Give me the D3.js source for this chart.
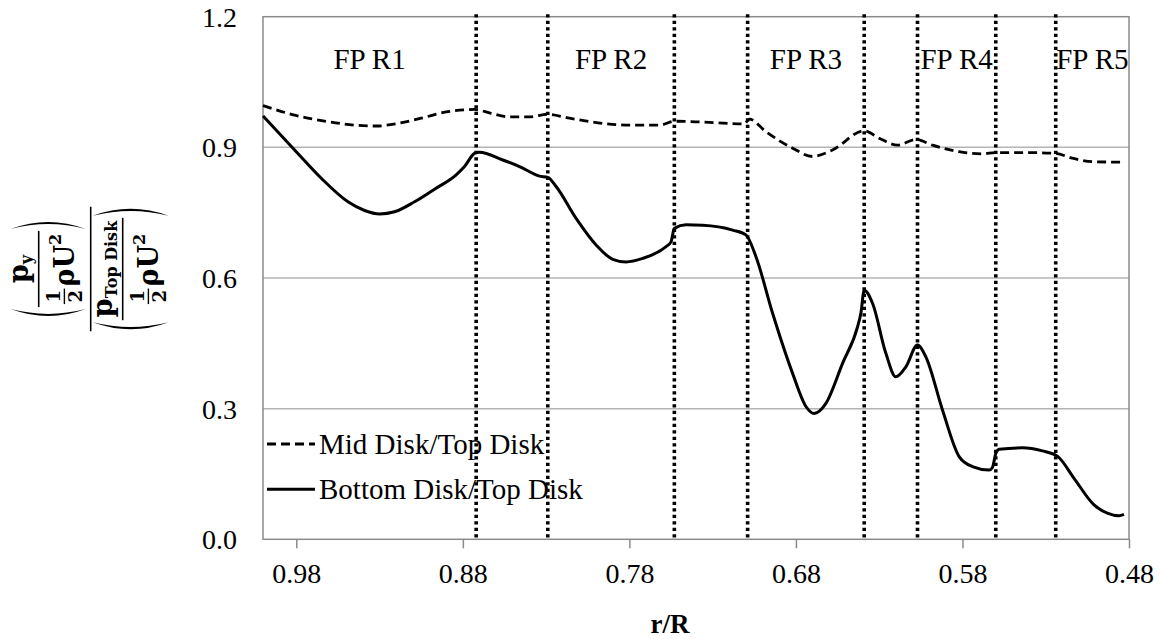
<!DOCTYPE html>
<html>
<head>
<meta charset="utf-8">
<script src="https://cdn.jsdelivr.net/npm/d3@7"></script>
<style>
  body { margin: 0; background: #fff; }
  svg { display: block; }
  text { font-family: "Liberation Serif", "Times New Roman", serif; fill: #000; }
  .math text { font-family: "DejaVu Serif", serif; font-weight: bold; }
</style>
</head>
<body>
<svg id="chart" width="1161" height="639"></svg>
<script>
// Pressure ratio along the radius, r/R from 1.0 down to 0.48
const midR = [1.000, 0.981, 0.961, 0.945, 0.932, 0.919, 0.905, 0.889, 0.873, 0.863, 0.852, 0.840, 0.829, 0.816, 0.796, 0.780, 0.762, 0.753, 0.736, 0.711, 0.708, 0.698, 0.682, 0.670, 0.658, 0.639, 0.630, 0.619, 0.608, 0.598, 0.582, 0.568, 0.560, 0.541, 0.524, 0.514, 0.501, 0.483];
const midVal = [0.996, 0.974, 0.959, 0.951, 0.949, 0.955, 0.967, 0.982, 0.987, 0.978, 0.970, 0.970, 0.976, 0.967, 0.955, 0.951, 0.951, 0.960, 0.958, 0.954, 0.965, 0.936, 0.898, 0.879, 0.894, 0.938, 0.921, 0.905, 0.918, 0.905, 0.890, 0.885, 0.888, 0.888, 0.886, 0.875, 0.867, 0.866];

const bottomR = [1.000, 0.981, 0.965, 0.949, 0.939, 0.930, 0.921, 0.909, 0.897, 0.884, 0.879, 0.873, 0.870, 0.856, 0.846, 0.834, 0.829, 0.824, 0.812, 0.800, 0.790, 0.782, 0.772, 0.758, 0.755, 0.753, 0.746, 0.736, 0.718, 0.710, 0.704, 0.694, 0.682, 0.674, 0.669, 0.662, 0.652, 0.643, 0.641, 0.639, 0.634, 0.626, 0.620, 0.614, 0.607, 0.602, 0.592, 0.582, 0.574, 0.564, 0.562, 0.560, 0.558, 0.544, 0.532, 0.523, 0.513, 0.501, 0.493, 0.486, 0.483];
const bottomVal = [0.972, 0.894, 0.829, 0.775, 0.755, 0.747, 0.752, 0.775, 0.804, 0.837, 0.856, 0.886, 0.889, 0.871, 0.856, 0.834, 0.831, 0.810, 0.737, 0.676, 0.643, 0.637, 0.645, 0.672, 0.683, 0.714, 0.722, 0.721, 0.710, 0.699, 0.649, 0.519, 0.381, 0.305, 0.289, 0.312, 0.404, 0.488, 0.519, 0.572, 0.542, 0.427, 0.373, 0.396, 0.446, 0.419, 0.297, 0.190, 0.167, 0.159, 0.165, 0.197, 0.207, 0.210, 0.203, 0.191, 0.140, 0.079, 0.060, 0.054, 0.057];

// Flow-passage regions and the dividers between them
const regionNames = ["FP R1", "FP R2", "FP R3", "FP R4", "FP R5"];
const regionStart = [1.000, 0.829, 0.709, 0.607, 0.524];
const regionEnd   = [0.872, 0.753, 0.639, 0.560, 0.480];
const dividerR = [0.872, 0.829, 0.753, 0.709, 0.639, 0.607, 0.560, 0.524];

const xTicks = [0.98, 0.88, 0.78, 0.68, 0.58, 0.48];
const yTicks = [0.0, 0.3, 0.6, 0.9, 1.2];
const seriesNames = ["Mid Disk/Top Disk", "Bottom Disk/Top Disk"];

const svg = d3.select("#chart");
const plotLeft = 263, plotRight = 1129, plotTop = 16.7, plotBottom = 539.3;

const x = d3.scaleLinear().domain([1.0, 0.48]).range([plotLeft, plotRight]);
const y = d3.scaleLinear().domain([0, 1.2]).range([plotBottom, plotTop]);

// horizontal gridlines
svg.append("g").selectAll("line")
  .data(yTicks.filter(v => v > 0 && v < 1.2))
  .join("line")
  .attr("x1", plotLeft).attr("x2", plotRight)
  .attr("y1", d => y(d)).attr("y2", d => y(d))
  .attr("stroke", "#b4b4b4").attr("stroke-width", 1.5);

// plot frame
svg.append("rect")
  .attr("x", plotLeft).attr("y", plotTop)
  .attr("width", plotRight - plotLeft).attr("height", plotBottom - plotTop)
  .attr("fill", "none").attr("stroke", "#8a8a8a").attr("stroke-width", 1.5);

// x axis
const xAxis = svg.append("g")
  .attr("transform", `translate(0,${plotBottom})`)
  .call(d3.axisBottom(x).tickValues(xTicks).tickFormat(d3.format(".2f")).tickSize(9).tickSizeOuter(0));
xAxis.select(".domain").remove();
xAxis.selectAll(".tick line").attr("stroke", "#8a8a8a").attr("stroke-width", 1.5);
xAxis.selectAll(".tick text")
  .attr("y", 44).attr("dy", 0)
  .style("font-family", '"Liberation Serif", "Times New Roman", serif')
  .style("font-size", "28px").attr("fill", "#000");

// y axis
const yAxis = svg.append("g")
  .attr("transform", `translate(${plotLeft},0)`)
  .call(d3.axisLeft(y).tickValues(yTicks).tickFormat(d3.format(".1f")).tickSize(0).tickPadding(26));
yAxis.select(".domain").remove();
yAxis.selectAll(".tick text")
  .attr("dy", "0.34em")
  .style("font-family", '"Liberation Serif", "Times New Roman", serif')
  .style("font-size", "28px").attr("fill", "#000");

// x axis title
svg.append("text")
  .attr("x", 670).attr("y", 633)
  .attr("text-anchor", "middle")
  .style("font-size", "27px").style("font-weight", "bold")
  .text("r/R");

// region labels
svg.append("g").selectAll("text")
  .data(regionNames)
  .join("text")
  .attr("x", (d, i) => x((regionStart[i] + regionEnd[i]) / 2))
  .attr("y", 68.5)
  .attr("text-anchor", "middle")
  .style("font-size", "29px")
  .text(d => d);

// legend
const legend = svg.append("g");
[["9,5", 444], [null, 489.3]].forEach(([dash, ly], i) => {
  legend.append("line")
    .attr("x1", 267).attr("x2", 315).attr("y1", ly).attr("y2", ly)
    .attr("stroke", "#000").attr("stroke-width", i ? 3 : 2.8)
    .attr("stroke-dasharray", dash);
  legend.append("text")
    .attr("x", 319).attr("y", ly + 9.6)
    .style("font-size", "29px")
    .text(seriesNames[i]);
});

// region dividers
svg.append("g").selectAll("line")
  .data(dividerR)
  .join("line")
  .attr("x1", d => x(d)).attr("x2", d => x(d))
  .attr("y1", plotTop - 2.5).attr("y2", plotBottom)
  .attr("stroke", "#000").attr("stroke-width", 3.6)
  .attr("stroke-dasharray", "3.4,3.1");

// series
const line = d3.line().x(d => x(d[0])).y(d => y(d[1])).curve(d3.curveMonotoneX);
svg.append("path")
  .datum(midR.map((r, i) => [r, midVal[i]]))
  .attr("d", line).attr("fill", "none")
  .attr("stroke", "#000").attr("stroke-width", 2.8)
  .attr("stroke-dasharray", "9,5");
svg.append("path")
  .datum(bottomR.map((r, i) => [r, bottomVal[i]]))
  .attr("d", line).attr("fill", "none")
  .attr("stroke", "#000").attr("stroke-width", 3)
  .attr("stroke-linejoin", "round");

// y axis title: ratio of two normalised pressures, set as a rotated fraction
const MAIN = 27, SCRIPT = 16, HALF = 18;
const title = svg.append("g").attr("class", "math")
  .attr("transform", "translate(90.7,269) rotate(-90)");

function mathRow(parent, items, baseV) {
  const g = parent.append("g");
  let u = 0;
  items.forEach(it => {
    if (it.frac) {
      const t1 = g.append("text").style("font-size", it.size + "px").text(it.frac[0]);
      const t2 = g.append("text").style("font-size", it.size + "px").text(it.frac[1]);
      const w = Math.max(t1.node().getComputedTextLength(), t2.node().getComputedTextLength()) + 3;
      t1.attr("x", u + w / 2).attr("y", baseV - 14).attr("text-anchor", "middle");
      t2.attr("x", u + w / 2).attr("y", baseV + 7.5).attr("text-anchor", "middle");
      g.append("line").attr("x1", u).attr("x2", u + w)
        .attr("y1", baseV - 9.8).attr("y2", baseV - 9.8)
        .attr("stroke", "#000").attr("stroke-width", 1.4);
      u += w + 2;
    } else {
      const t = g.append("text").attr("x", u).attr("y", baseV + (it.dy || 0))
        .style("font-size", it.size + "px").text(it.t);
      u += t.node().getComputedTextLength() + (it.gap || 0);
    }
  });
  g.attr("transform", `translate(${-u / 2},0)`);
  return u;
}

function paren(parent, uA, vTop, vBot, dir) {
  const vm = (vTop + vBot) / 2, e = 7 * dir, c = -7 * dir, c2 = (-7 + 4.4) * dir;
  parent.append("path")
    .attr("d", `M${uA + e},${vTop} Q${uA + c},${vm} ${uA + e},${vBot} Q${uA + c2},${vm} ${uA + e},${vTop} Z`)
    .attr("fill", "#000");
}

function normGroup(parent, topItems, barV, vTop, vBot) {
  const wTop = mathRow(parent, topItems, barV - 11);
  const wBot = mathRow(parent, [
    { frac: ["1", "2"], size: HALF },
    { t: "ρU", size: MAIN },
    { t: "2", size: SCRIPT, dy: -13 }
  ], barV + 35.5);
  const L = Math.max(wTop, wBot) + 6;
  parent.append("line").attr("x1", -L / 2).attr("x2", L / 2)
    .attr("y1", barV).attr("y2", barV)
    .attr("stroke", "#000").attr("stroke-width", 1.6);
  const pu = L / 2 + 9;
  paren(parent, -pu, vTop, vBot, 1);
  paren(parent, pu, vTop, vBot, -1);
  return pu;
}

const spanA = normGroup(title, [{ t: "p", size: MAIN }, { t: "y", size: SCRIPT, dy: 4.5 }], -52, -80, -5);
const spanB = normGroup(title, [{ t: "p", size: MAIN }, { t: "Top Disk", size: SCRIPT, dy: 5 }], 32, 2, 78);
const outer = Math.max(spanA, spanB) + 2;
title.append("line").attr("x1", -outer).attr("x2", outer)
  .attr("y1", 0).attr("y2", 0)
  .attr("stroke", "#000").attr("stroke-width", 1.6);
</script>
</body>
</html>
